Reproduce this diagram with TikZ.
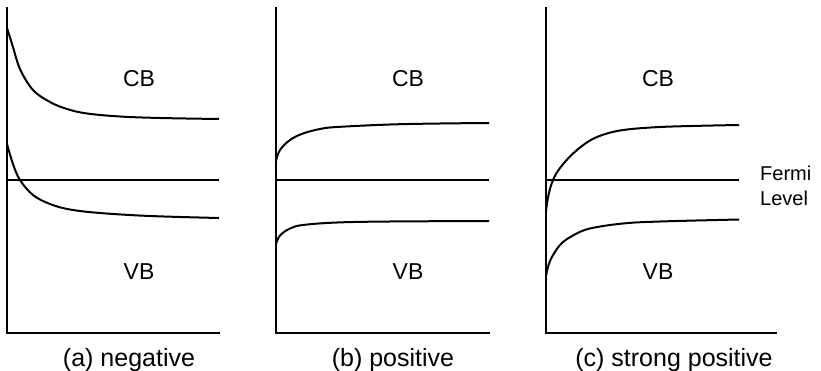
\documentclass[tikz,border=0pt]{standalone}
\usepackage{fontspec}
\setmainfont{Liberation Sans}
\begin{document}
\begin{tikzpicture}[x=1pt,y=-1pt,
  axisline/.style={line width=2pt, line join=miter, line cap=rect},
  bandline/.style={line width=2pt},
  fermiline/.style={line width=1.9pt},
  bandlbl/.style={font=\fontsize{23}{27}\selectfont, inner sep=0pt, anchor=base},
  caplbl/.style={font=\fontsize{25}{29}\selectfont, inner sep=0pt, anchor=base},
  fermilbl/.style={font=\fontsize{20}{24}\selectfont, inner sep=0pt, anchor=base west}]
\useasboundingbox (0,0) rectangle (821,371);

% ---------- (a) negative ----------
\draw[axisline] (7,8) -- (7,333) -- (219,333);
\draw[fermiline] (7,180) -- (219,180);
\draw[bandline] plot[smooth, tension=0.6] coordinates {(7,28) (13,47) (20,69) (33,90) (50,102) (67,109) (87,113.5) (120,116.5) (160,118) (219,119)};
\draw[bandline] plot[smooth, tension=0.6] coordinates {(7,144) (13,164) (20,180) (33,195) (50,204) (70,209.5) (100,213) (150,216) (219,218)};
\node[bandlbl] (cba) at (139,87) {CB};
\node[bandlbl] (vba) at (139,279) {VB};
\node[caplbl] (capa) at (129,366) {(a) negative};

% ---------- (b) positive ----------
\draw[axisline] (276,8) -- (276,333) -- (489,333);
\draw[fermiline] (276,180) -- (489,180);
\draw[bandline] plot[smooth, tension=0.6] coordinates {(276,161) (280,150) (290,140) (303,133.5) (320,129) (337,127) (390,124.5) (440,123.5) (489,123)};
\draw[bandline] plot[smooth, tension=0.6] coordinates {(276,244) (280,235.5) (290,228.5) (303,225) (337,222.5) (390,221.5) (489,221)};
\node[bandlbl] (cbb) at (408,87) {CB};
\node[bandlbl] (vbb) at (408,279) {VB};
\node[caplbl] (capb) at (393,366) {(b) positive};

% ---------- (c) strong positive ----------
\draw[axisline] (546,8) -- (546,333) -- (776,333);
\draw[fermiline] (546,180) -- (739,180);
\draw[bandline] plot[smooth, tension=0.6] coordinates {(546,211) (548.5,195) (553,180) (560,168) (573,153.5) (590,140.5) (607,133.5) (627,129.5) (660,127) (700,125.8) (739,125)};
\draw[bandline] plot[smooth, tension=0.6] coordinates {(546,276) (550,261) (560,245) (573,235.5) (590,228.5) (623,223.5) (660,221.5) (739,219.5)};
\node[bandlbl] (cbc) at (658,87) {CB};
\node[bandlbl] (vbc) at (658,279) {VB};
\node[fermilbl] (fermi) at (760,181) {Fermi};
\node[fermilbl] (level) at (760,205.5) {Level};
\node[caplbl] (capc) at (674,366) {(c) strong positive};
\end{tikzpicture}
\end{document}
